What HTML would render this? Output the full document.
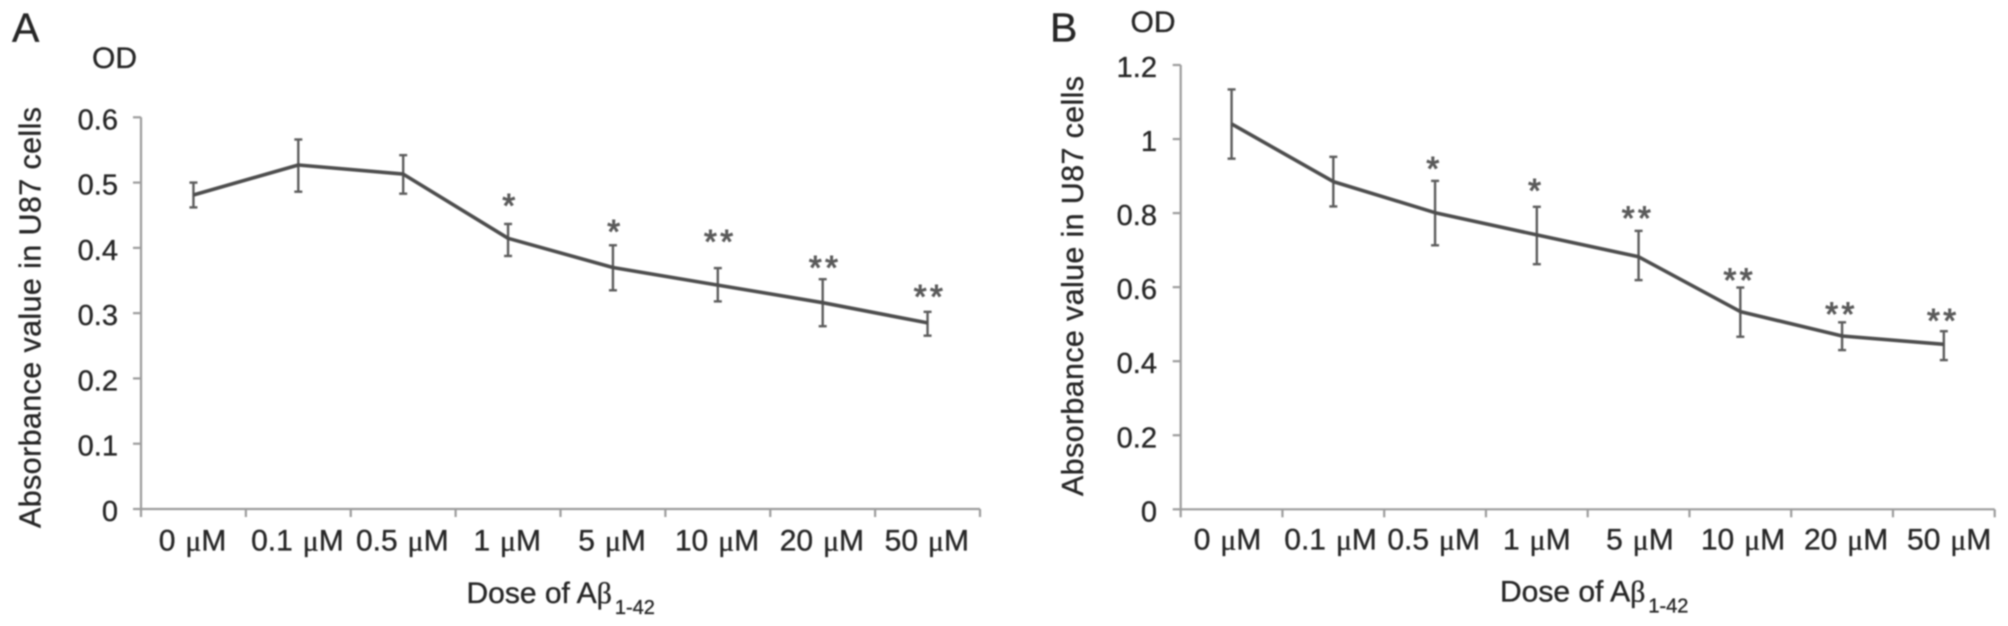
<!DOCTYPE html>
<html lang="en">
<head>
<meta charset="utf-8">
<title>Absorbance value in U87 cells by dose of Aβ1-42</title>
<style>
html,body{margin:0;padding:0;background:#fff;}
body{width:2008px;height:626px;overflow:hidden;}
#figure{display:block;filter:blur(0.7px);}
text{font-family:"Liberation Sans",Arial,sans-serif;fill:#262626;stroke:#262626;stroke-width:0.35px;}
.serif{font-family:"Liberation Serif","Times New Roman",serif;}
</style>
</head>
<body>
<svg id="figure" xmlns="http://www.w3.org/2000/svg" width="2008" height="626" viewBox="0 0 2008 626">
<rect x="0" y="0" width="2008" height="626" fill="#ffffff"/>
<g id="panel-a"></g>
<g id="panel-b"></g>
</svg>
<script>
// Shared category labels
const categories = ['0 μM', '0.1 μM', '0.5 μM', '1 μM', '5 μM', '10 μM', '20 μM', '50 μM'];

// Panel A data
const yTicksA = [0, 0.1, 0.2, 0.3, 0.4, 0.5, 0.6];
const yTickLabelsA = ['0', '0.1', '0.2', '0.3', '0.4', '0.5', '0.6'];
const meansA = [0.481, 0.527, 0.513, 0.4146, 0.370, 0.343, 0.316, 0.285];
const upperA = [0.500, 0.566, 0.542, 0.4366, 0.404, 0.369, 0.352, 0.302];
const lowerA = [0.462, 0.486, 0.483, 0.3876, 0.335, 0.318, 0.280, 0.2655];
const significanceA = ['', '', '', '*', '*', '**', '**', '**'];
const significanceLevelA = [0, 0, 0, 0.475, 0.435, 0.420, 0.380, 0.3355];

// Panel B data
const yTicksB = [0, 0.2, 0.4, 0.6, 0.8, 1, 1.2];
const yTickLabelsB = ['0', '0.2', '0.4', '0.6', '0.8', '1', '1.2'];
const meansB = [1.041, 0.885, 0.801, 0.741, 0.682, 0.534, 0.468, 0.4456];
const upperB = [1.134, 0.952, 0.887, 0.817, 0.752, 0.599, 0.505, 0.481];
const lowerB = [0.947, 0.818, 0.713, 0.662, 0.619, 0.466, 0.430, 0.403];
const significanceB = ['', '', '*', '*', '**', '**', '**', '**'];
const significanceLevelB = [0, 0, 0.938, 0.8786, 0.804, 0.637, 0.545, 0.527];

const SVG_NS = 'http://www.w3.org/2000/svg';

function makeEl(parent, tag, name, attrs, content) {
  const el = document.createElementNS(SVG_NS, tag);
  
  
  for (const key in attrs) el.setAttribute(key, attrs[key]);
  if (content !== undefined) el.textContent = content;
  parent.appendChild(el);
  return el;
}

function drawPanel(cfg) {
  const root = document.getElementById(cfg.id);
  const yMax = cfg.yTicks[cfg.yTicks.length - 1];
  const band = (cfg.right - cfg.left) / cfg.categories.length;
  const xScale = function (i) { return cfg.left + band * (i + 0.5); };
  const xEdge = function (i) { return cfg.left + band * i; };
  const yScale = function (v) { return cfg.bottom - (v / yMax) * (cfg.bottom - cfg.top); };
  const axisStyle = { stroke: '#9c9c9c', 'stroke-width': 2.2, fill: 'none' };

  // Axes
  makeEl(root, 'line', 'y-axis-line', Object.assign({ x1: cfg.left, y1: cfg.top, x2: cfg.left, y2: cfg.bottom }, axisStyle));
  makeEl(root, 'line', 'x-axis-line', Object.assign({ x1: cfg.left, y1: cfg.bottom, x2: cfg.right, y2: cfg.bottom }, axisStyle));

  // Y ticks
  cfg.yTicks.forEach(function (v, i) {
    const y = yScale(v);
    makeEl(root, 'line', 'y-tick-' + i, Object.assign({ x1: cfg.left - 8, y1: y, x2: cfg.left, y2: y }, axisStyle));
    makeEl(root, 'text', 'y-tick-label-' + i, {
      x: cfg.yLabelRight, y: y + 12, 'text-anchor': 'end', 'font-size': 29
    }, cfg.yTickLabels[i]);
  });

  // X ticks
  for (let i = 0; i <= cfg.categories.length; i++) {
    const x = xEdge(i);
    makeEl(root, 'line', 'x-tick-' + i, Object.assign({ x1: x, y1: cfg.bottom, x2: x, y2: cfg.bottom + 8 }, axisStyle));
  }

  // X labels
  cfg.categories.forEach(function (label, i) {
    const parts = label.split('μ');
    const t = makeEl(root, 'text', 'x-tick-label-' + i, {
      x: cfg.labelStart + cfg.labelStep * i, y: cfg.labelBaseline,
      'text-anchor': 'middle', 'font-size': 30, 'word-spacing': 1.5
    });
    t.appendChild(document.createTextNode(parts[0]));
    const mu = document.createElementNS(SVG_NS, 'tspan');
    mu.setAttribute('class', 'serif');
    mu.textContent = 'μ';
    t.appendChild(mu);
    t.appendChild(document.createTextNode(parts[1]));
  });

  // Error bars
  cfg.means.forEach(function (m, i) {
    const x = xScale(i);
    const g = makeEl(root, 'g', 'error-bar-' + i, { stroke: '#5c5c5c', 'stroke-width': 2.4, fill: 'none' });
    makeEl(g, 'line', 'error-stem-' + i, { x1: x, y1: yScale(cfg.upper[i]), x2: x, y2: yScale(cfg.lower[i]) });
    makeEl(g, 'line', 'error-cap-upper-' + i, { x1: x - 4, y1: yScale(cfg.upper[i]), x2: x + 4, y2: yScale(cfg.upper[i]) });
    makeEl(g, 'line', 'error-cap-lower-' + i, { x1: x - 4, y1: yScale(cfg.lower[i]), x2: x + 4, y2: yScale(cfg.lower[i]) });
  });

  // Series line
  const points = cfg.means.map(function (m, i) { return xScale(i).toFixed(1) + ',' + yScale(m).toFixed(1); }).join(' ');
  makeEl(root, 'polyline', 'absorbance-line', {
    points: points, fill: 'none', stroke: '#4d4d4d', 'stroke-width': 3.6, 'stroke-linejoin': 'round'
  });

  // Significance stars
  cfg.significance.forEach(function (s, i) {
    if (!s) return;
    const t = makeEl(root, 'text', 'significance-marker-' + i, {
      x: xScale(i) + cfg.starDx, y: yScale(cfg.significanceLevel[i]) + 18,
      'text-anchor': 'middle', 'font-size': 33, 'letter-spacing': 3.5
    }, s);
    t.style.fill = '#5a5a5a';
    t.style.stroke = '#5a5a5a';
    t.style.strokeWidth = '1px';
  });

  // Titles
  makeEl(root, 'text', 'y-axis-title', {
    transform: 'translate(' + cfg.yTitleX + ',' + cfg.yTitleBottom + ') rotate(-90)',
    x: 0, y: 0, 'font-size': 30.5, textLength: cfg.yTitleLength, lengthAdjust: 'spacing'
  }, 'Absorbance value in U87 cells');

  makeEl(root, 'text', 'y-unit-label', { x: cfg.odX, y: cfg.odY, 'font-size': 30 }, 'OD');
  makeEl(root, 'text', 'panel-letter', { x: cfg.letterX, y: 41.7, 'font-size': 41 }, cfg.letter);

  const xt = makeEl(root, 'text', 'x-axis-title', { x: cfg.xTitleX, y: cfg.xTitleY, 'font-size': 30 });
  xt.appendChild(document.createTextNode('Dose of A'));
  const beta = document.createElementNS(SVG_NS, 'tspan');
  beta.setAttribute('class', 'serif');
  beta.textContent = 'β';
  xt.appendChild(beta);
  const sub = document.createElementNS(SVG_NS, 'tspan');
  sub.setAttribute('font-size', '20');
  sub.setAttribute('dy', '11');
  sub.setAttribute('dx', '3');
  sub.textContent = '1-42';
  xt.appendChild(sub);
}

drawPanel({
  id: 'panel-a', letter: 'A', categories: categories,
  yTicks: yTicksA, yTickLabels: yTickLabelsA,
  means: meansA, upper: upperA, lower: lowerA,
  significance: significanceA, significanceLevel: significanceLevelA,
  left: 141, right: 980, top: 117.3, bottom: 509,
  yLabelRight: 118, labelStart: 192.5, labelStep: 104.9, labelBaseline: 550.5,
  starDx: 2.5, yTitleX: 40.7, yTitleBottom: 528, yTitleLength: 421,
  odX: 92, odY: 68, letterX: 12, xTitleX: 466.5, xTitleY: 603
});

drawPanel({
  id: 'panel-b', letter: 'B', categories: categories,
  yTicks: yTicksB, yTickLabels: yTickLabelsB,
  means: meansB, upper: upperB, lower: lowerB,
  significance: significanceB, significanceLevel: significanceLevelB,
  left: 1180.7, right: 1994.7, top: 65, bottom: 509.3,
  yLabelRight: 1157, labelStart: 1227.5, labelStep: 103.1, labelBaseline: 549.5,
  starDx: -0.5, yTitleX: 1083, yTitleBottom: 496, yTitleLength: 420,
  odX: 1130.5, odY: 32, letterX: 1050, xTitleX: 1500, xTitleY: 601.7
});
</script>
</body>
</html>
